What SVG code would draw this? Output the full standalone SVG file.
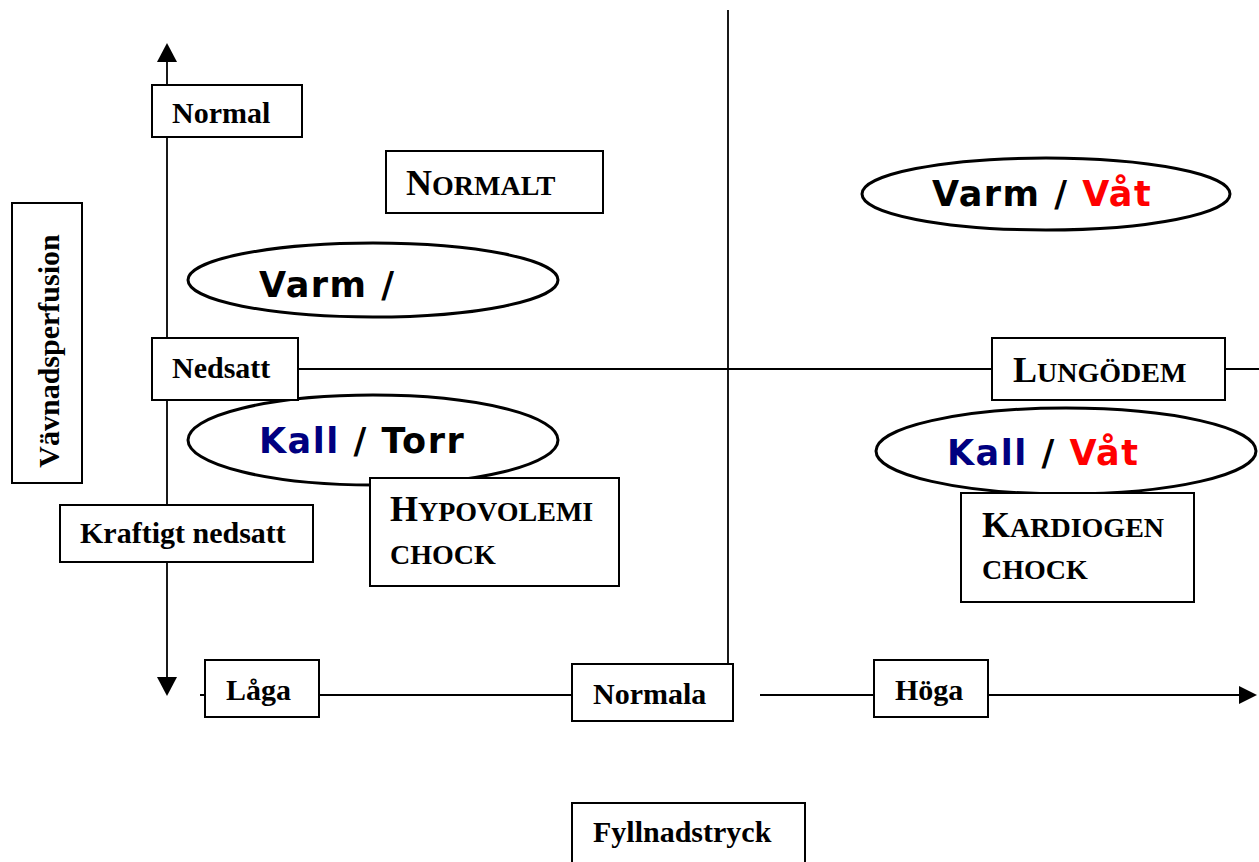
<svg xmlns="http://www.w3.org/2000/svg" width="1259" height="862" viewBox="0 0 1259 862">
<style>
.box{fill:#fff;stroke:#000;stroke-width:2}
.ell{fill:#fff;stroke:#000;stroke-width:3}
.ln{stroke:#000;stroke-width:1.8;fill:none}
.t{font-family:"Liberation Serif","Times New Roman",serif;font-weight:bold;font-size:30px;fill:#000}
.sc{font-family:"Liberation Serif","Times New Roman",serif;font-weight:bold;font-size:28px;fill:#000}
.big{font-size:36px}
.s{font-family:"DejaVu Sans",Verdana,sans-serif;font-weight:bold;font-size:35px;letter-spacing:1.5px;fill:#000}
.blue{fill:#000080}
.red{fill:#ff0000}
</style>
<rect width="1259" height="862" fill="#fff"/>
<g id="connectors">
<line class="ln" x1="167" y1="60" x2="167" y2="679"/>
<polygon points="167,43 157,62 177,62" fill="#000"/>
<polygon points="167,696 157,677 177,677" fill="#000"/>
<line class="ln" x1="298" y1="369" x2="993" y2="369"/>
<line class="ln" x1="1225" y1="369" x2="1259" y2="369"/>
<line class="ln" x1="728" y1="10" x2="728" y2="664"/>
<line class="ln" x1="200" y1="695" x2="572" y2="695"/>
<line class="ln" x1="760" y1="695" x2="1242" y2="695"/>
<polygon points="1257,695 1239,686 1239,704" fill="#000"/>
</g>
<g id="ell-varm">
<ellipse class="ell" cx="373" cy="280" rx="185" ry="37"/>
<text class="s" x="259" y="297">Varm /</text>
</g>
<g id="ell-kall-torr">
<ellipse class="ell" cx="373" cy="440" rx="185" ry="45"/>
<text class="s" x="259" y="453"><tspan class="blue">Kall</tspan> / Torr</text>
</g>
<g id="ell-varm-vat">
<ellipse class="ell" cx="1046" cy="194" rx="184" ry="36"/>
<text class="s" x="932" y="206">Varm / <tspan class="red">Våt</tspan></text>
</g>
<g id="ell-kall-vat">
<ellipse class="ell" cx="1066" cy="451" rx="190" ry="43"/>
<text class="s" x="947" y="465"><tspan class="blue">Kall</tspan> / <tspan class="red">Våt</tspan></text>
</g>
<g id="normal">
<rect class="box" x="152" y="85" width="150" height="52"/>
<text class="t" x="172" y="123">Normal</text>
</g>
<g id="nedsatt">
<rect class="box" x="152" y="338" width="146" height="62"/>
<text class="t" x="172" y="378">Nedsatt</text>
</g>
<g id="kraftigt">
<rect class="box" x="60" y="505" width="253" height="57"/>
<text class="t" x="80" y="543">Kraftigt nedsatt</text>
</g>
<g id="vavnad">
<rect class="box" x="12" y="203" width="70" height="280"/>
<text class="t" transform="translate(59,351) rotate(-90)" text-anchor="middle">Vävnadsperfusion</text>
</g>
<g id="normalt">
<rect class="box" x="386" y="151" width="217" height="62"/>
<text class="sc" x="406" y="195"><tspan class="big">N</tspan>ORMALT</text>
</g>
<g id="lungodem">
<rect class="box" x="992" y="338" width="233" height="62"/>
<text class="sc" x="1013" y="382"><tspan class="big">L</tspan>UNGÖDEM</text>
</g>
<g id="hypovolemi">
<rect class="box" x="370" y="478" width="249" height="108"/>
<text class="sc" x="390" y="521"><tspan class="big">H</tspan>YPOVOLEMI</text>
<text class="sc" x="390" y="564">CHOCK</text>
</g>
<g id="kardiogen">
<rect class="box" x="961" y="493" width="233" height="109"/>
<text class="sc" x="982" y="537"><tspan class="big">K</tspan>ARDIOGEN</text>
<text class="sc" x="982" y="579">CHOCK</text>
</g>
<g id="laga">
<rect class="box" x="205" y="660" width="114" height="57"/>
<text class="t" x="226" y="700">Låga</text>
</g>
<g id="normala">
<rect class="box" x="572" y="664" width="161" height="57"/>
<text class="t" x="593" y="704">Normala</text>
</g>
<g id="hoga">
<rect class="box" x="874" y="660" width="114" height="57"/>
<text class="t" x="895" y="700">Höga</text>
</g>
<g id="fyllnadstryck">
<rect class="box" x="572" y="803" width="233" height="70"/>
<text class="t" x="593" y="842">Fyllnadstryck</text>
</g>
</svg>
